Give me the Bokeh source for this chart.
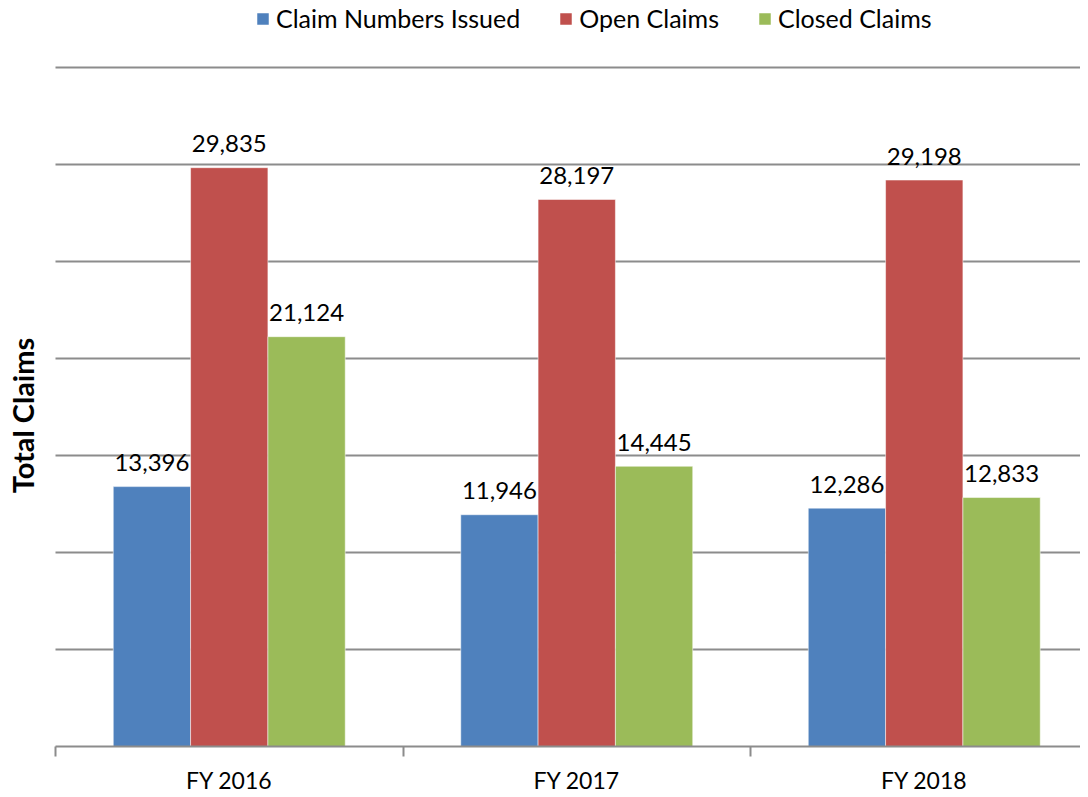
import math
from bokeh.plotting import figure
from bokeh.models import Range1d, FixedTicker, Legend, LegendItem, ColumnDataSource, Label
from bokeh.embed import file_html
from bokeh.resources import INLINE
from bokeh.core.properties import value

# ---- data ----
categories = ["FY 2016", "FY 2017", "FY 2018"]
series_names = ["Claim Numbers Issued", "Open Claims", "Closed Claims"]
claim_numbers_issued = [13396, 11946, 12286]
open_claims = [29835, 28197, 29198]
closed_claims = [21124, 14445, 12833]
y_grid_ticks = [5000, 10000, 15000, 20000, 25000, 30000, 35000]
y_axis_title = "Total Claims"

# ---- style ----
colors = ["#4F81BD", "#C0504D", "#9BBB59"]
FONT = "Lato"
GRID = "#8c8c8c"
bar_w = 0.2225
offsets = [-bar_w, 0.0, bar_w]

FRAME_W, FRAME_H = 1080, 746
CAT_PX = 347.5          # pixel width of one category
LEFT_PX = 55            # where the category axis starts
PX_PER_UNIT = 679 / 35000.0

x_start = -LEFT_PX / CAT_PX
x_end = (FRAME_W - LEFT_PX) / CAT_PX
y_end = FRAME_H / PX_PER_UNIT

p = figure(frame_width=FRAME_W, frame_height=FRAME_H,
           x_range=Range1d(x_start, x_end), y_range=Range1d(0, y_end),
           output_backend="svg", toolbar_location=None,
           min_border_left=0, min_border_right=0, min_border_top=0, min_border_bottom=43)
p.outline_line_color = None
p.background_fill_color = "white"
p.border_fill_color = "white"
p.xgrid.visible = False
p.ygrid.visible = False
p.yaxis.visible = False

# horizontal gridlines spanning the category area only
ncat = len(categories)
p.segment(x0=[0] * len(y_grid_ticks), x1=[ncat] * len(y_grid_ticks),
          y0=y_grid_ticks, y1=y_grid_ticks, line_color=GRID, line_width=2, level="underlay")

# x axis
centers = [i + 0.5 for i in range(ncat)]
p.xaxis.bounds = (0, ncat)
p.xaxis.ticker = FixedTicker(ticks=centers, minor_ticks=list(range(ncat + 1)))
p.xaxis.major_label_overrides = {c: lab for c, lab in zip(centers, categories)}
p.xaxis.major_tick_line_color = None
p.xaxis.minor_tick_line_color = GRID
p.xaxis.minor_tick_line_width = 2
p.xaxis.minor_tick_in = 0
p.xaxis.minor_tick_out = 10
p.xaxis.axis_line_color = GRID
p.xaxis.axis_line_width = 2
p.xaxis.major_label_text_font = FONT
p.xaxis.major_label_text_font_size = "23px"
p.xaxis.major_label_text_color = "black"
p.xaxis.major_label_standoff = 9

items = []
for j, (name, vals) in enumerate(zip(series_names, [claim_numbers_issued, open_claims, closed_claims])):
    src = ColumnDataSource(dict(x=[c + offsets[j] for c in centers], top=vals,
                                lab=[f"{v:,}" for v in vals]))
    r = p.vbar(x="x", top="top", width=bar_w, source=src, fill_color=colors[j],
               line_color="white", line_alpha=0.5, line_width=1)
    p.text(x="x", y="top", text="lab", source=src, text_align="center", text_baseline="alphabetic",
           y_offset=-24, text_font=value(FONT), text_font_size="24px", text_color="black")
    items.append(LegendItem(label=name, renderers=[r]))

legend = Legend(items=items, orientation="horizontal", location=(255, 713),
                glyph_width=15, glyph_height=15, label_standoff=6, spacing=38,
                padding=0, margin=0, border_line_color=None, background_fill_alpha=0,
                label_text_font=FONT, label_text_font_size="25px", label_text_color="black")
p.add_layout(legend)

p.add_layout(Label(x=22, y=FRAME_H - 415, x_units="screen", y_units="screen", text=y_axis_title,
                   angle=math.pi / 2, text_align="center", text_baseline="middle",
                   text_font=FONT, text_font_style="bold", text_font_size="29px",
                   text_color="black"))

open("out.html", "w").write(file_html(p, INLINE))
